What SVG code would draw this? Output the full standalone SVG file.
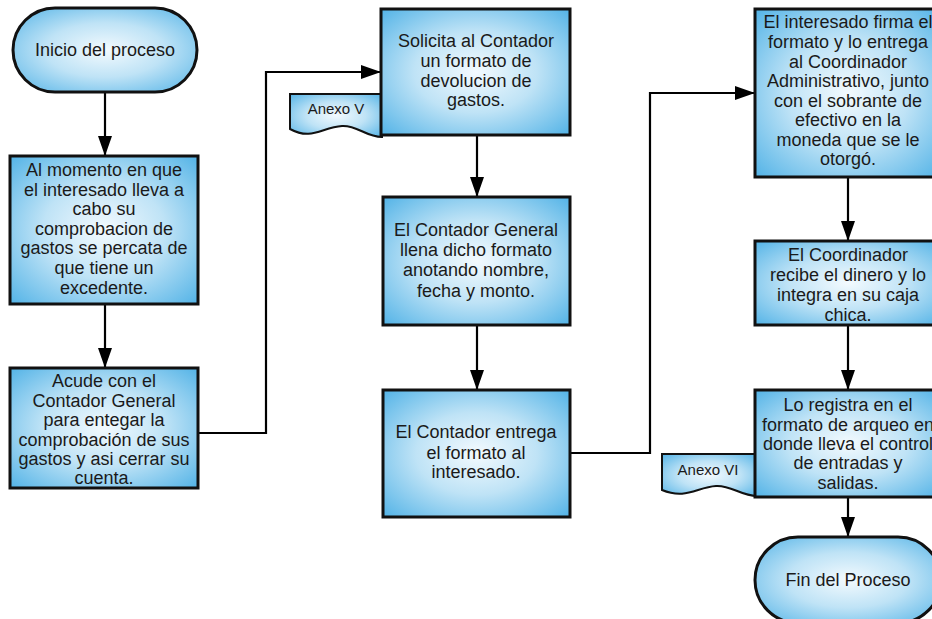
<svg xmlns="http://www.w3.org/2000/svg" width="932" height="619" viewBox="0 0 932 619">
<defs>
<radialGradient id="g" cx="50%" cy="50%" r="72%">
<stop offset="0%" stop-color="#f3fafe"/>
<stop offset="45%" stop-color="#bfe3f6"/>
<stop offset="100%" stop-color="#4eb1e6"/>
</radialGradient>
<marker id="ah" viewBox="0 0 20 14" refX="20" refY="7" markerWidth="20" markerHeight="14" markerUnits="userSpaceOnUse" orient="auto">
<path d="M0,0 L20,7 L0,14 Z" fill="#000"/>
</marker>
<style>
.n{fill:url(#g);stroke:#111;stroke-width:3}
.d{fill:url(#g);stroke:#111;stroke-width:2}
.t{font-family:"Liberation Sans",Arial,sans-serif;font-size:18px;fill:#1a1a1a;text-anchor:middle}
.s{font-family:"Liberation Sans",Arial,sans-serif;font-size:15px;fill:#1a1a1a;text-anchor:middle}
.c{fill:none;stroke:#000;stroke-width:2.2;marker-end:url(#ah)}
</style>
</defs>
<rect width="932" height="619" fill="#fff"/>

<g id="connectors">
<path class="c" d="M105,92 V156"/>
<path class="c" d="M105,304 V368"/>
<path class="c" d="M198,433 H266 V72 H381"/>
<path class="c" d="M477,135 V197"/>
<path class="c" d="M477,325 V390"/>
<path class="c" d="M570,453 H650 V93 H755"/>
<path class="c" d="M848,177 V241"/>
<path class="c" d="M848,325 V390"/>
<path class="c" d="M848,497 V537"/>
</g>

<g id="inicio">
<rect class="n" x="13" y="8" width="184" height="84" rx="42" ry="42"/>
<text class="t" x="105" y="56">Inicio del proceso</text>
</g>

<g id="paso1">
<rect class="n" x="10" y="156" width="188" height="148"/>
<text class="t"><tspan x="104" y="176">Al momento en que</tspan><tspan x="104" y="196">el interesado lleva a</tspan><tspan x="104" y="215">cabo su</tspan><tspan x="104" y="235">comprobacion de</tspan><tspan x="104" y="254">gastos se percata de</tspan><tspan x="104" y="274">que tiene un</tspan><tspan x="104" y="294">excedente.</tspan></text>
</g>

<g id="paso2">
<rect class="n" x="10" y="368" width="188" height="120"/>
<text class="t"><tspan x="104" y="387">Acude con el</tspan><tspan x="104" y="406.5">Contador General</tspan><tspan x="104" y="426">para entegar la</tspan><tspan x="104" y="445.5">comprobación de sus</tspan><tspan x="104" y="465">gastos y asi cerrar su</tspan><tspan x="104" y="484">cuenta.</tspan></text>
</g>

<g id="anexo5">
<path class="d" d="M290,94 H382 V137 C366,137 357,125 342,126 C322,127 312,141 290,129 Z"/>
<text class="s" x="336" y="114">Anexo V</text>
</g>

<g id="paso3">
<rect class="n" x="381" y="9" width="189" height="126"/>
<text class="t"><tspan x="476" y="47">Solicita al Contador</tspan><tspan x="476" y="67">un formato de</tspan><tspan x="476" y="87">devolucion de</tspan><tspan x="476" y="106">gastos.</tspan></text>
</g>

<g id="paso4">
<rect class="n" x="383" y="197" width="187" height="128"/>
<text class="t"><tspan x="476" y="236">El Contador General</tspan><tspan x="476" y="256">llena dicho formato</tspan><tspan x="476" y="276">anotando nombre,</tspan><tspan x="476" y="297">fecha y monto.</tspan></text>
</g>

<g id="paso5">
<rect class="n" x="383" y="390" width="187" height="127"/>
<text class="t"><tspan x="476" y="438">El Contador entrega</tspan><tspan x="476" y="459">el formato al</tspan><tspan x="476" y="478">interesado.</tspan></text>
</g>

<g id="paso6">
<rect class="n" x="755" y="9" width="186" height="168"/>
<text class="t"><tspan x="848" y="28">El interesado firma el</tspan><tspan x="848" y="48">formato y lo entrega</tspan><tspan x="848" y="68">al Coordinador</tspan><tspan x="848" y="87">Administrativo, junto</tspan><tspan x="848" y="107">con el sobrante de</tspan><tspan x="848" y="126">efectivo en la</tspan><tspan x="848" y="146">moneda que se le</tspan><tspan x="848" y="165">otorgó.</tspan></text>
</g>

<g id="paso7">
<rect class="n" x="755" y="241" width="186" height="84"/>
<text class="t"><tspan x="848" y="261">El Coordinador</tspan><tspan x="848" y="281">recibe el dinero y lo</tspan><tspan x="848" y="301">integra en su caja</tspan><tspan x="848" y="321">chica.</tspan></text>
</g>

<g id="anexo6">
<path class="d" d="M662,454 H757 V496 C741,496 731,485 716,486 C697,487 686,500 662,490 Z"/>
<text class="s" x="708" y="475">Anexo VI</text>
</g>

<g id="paso8">
<rect class="n" x="755" y="390" width="186" height="107"/>
<text class="t"><tspan x="848" y="411">Lo registra en el</tspan><tspan x="848" y="431">formato de arqueo en</tspan><tspan x="848" y="450">donde lleva el control</tspan><tspan x="848" y="469">de entradas y</tspan><tspan x="848" y="489">salidas.</tspan></text>
</g>

<g id="fin">
<rect class="n" x="755" y="537" width="186" height="86" rx="43" ry="43"/>
<text class="t" x="848" y="586">Fin del Proceso</text>
</g>
</svg>
